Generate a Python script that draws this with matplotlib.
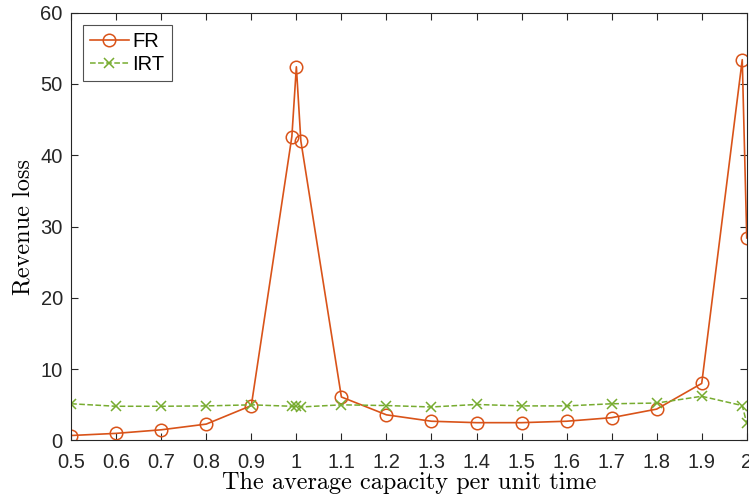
import matplotlib.pyplot as plt
import numpy as np

plt.rcParams['font.family'] = ['Liberation Sans', 'DejaVu Sans']
plt.rcParams['mathtext.fontset'] = 'cm'

# capacity values (0.99 / 1.01 and 1.99 sit close to the ticks)
cap = [0.5, 0.6, 0.7, 0.8, 0.9, 0.99, 1.0, 1.01, 1.1, 1.2, 1.3, 1.4,
       1.5, 1.6, 1.7, 1.8, 1.9, 1.99, 2.0]
fr = [0.7, 1.0, 1.5, 2.3, 4.9, 42.6, 52.4, 42.0, 6.1, 3.6, 2.7, 2.5,
      2.5, 2.7, 3.2, 4.4, 8.0, 53.4, 28.4]
irt = [5.15, 4.8, 4.8, 4.85, 5.0, 4.8, 4.8, 4.7, 5.0, 4.9, 4.7, 5.05,
       4.85, 4.85, 5.15, 5.25, 6.2, 4.9, 2.4]

xticks = [0.5, 0.6, 0.7, 0.8, 0.9, 1.0, 1.1, 1.2, 1.3, 1.4, 1.5, 1.6,
          1.7, 1.8, 1.9, 2.0]
xlabels = ['0.5', '0.6', '0.7', '0.8', '0.9', '1', '1.1', '1.2', '1.3',
           '1.4', '1.5', '1.6', '1.7', '1.8', '1.9', '2']
yticks = [0, 10, 20, 30, 40, 50, 60]

fig = plt.figure(figsize=(7.49, 5.04), dpi=100)
ax = fig.add_axes([0.095, 0.126, 0.902, 0.849])

ax.plot(cap, fr, '-o', color='#D95319', lw=1.2, ms=9,
        mfc='none', mew=1.1, label='FR')
ax.plot(cap, irt, '--x', color='#77AC30', lw=1.1, ms=7,
        mew=1.1, label='IRT')

ax.set_xlim(0.5, 2)
ax.set_ylim(0, 60)
ax.set_xticks(xticks)
ax.set_xticklabels(xlabels)
ax.set_yticks(yticks)

for s in ax.spines.values():
    s.set_color('#262626')
    s.set_linewidth(0.8)
ax.tick_params(direction='in', top=True, right=True, length=5,
               width=0.8, color='#262626', labelsize=14.5,
               labelcolor='#262626')
ax.tick_params(axis='x', pad=9)
ax.tick_params(axis='y', pad=6)

ax.set_xlabel('The average capacity per unit time', fontfamily='cmr10',
              fontsize=17.5, labelpad=0)
ax.set_ylabel('Revenue loss', fontfamily='cmr10', fontsize=17.5, labelpad=4)

leg = ax.legend(loc='upper left', fontsize=14.5, frameon=True,
                fancybox=False, edgecolor='#262626', borderpad=0.35,
                handlelength=1.9, handletextpad=0.2, labelspacing=0.2,
                borderaxespad=0.6)
leg.get_frame().set_linewidth(0.8)

fig.savefig('out.png', dpi=100)
